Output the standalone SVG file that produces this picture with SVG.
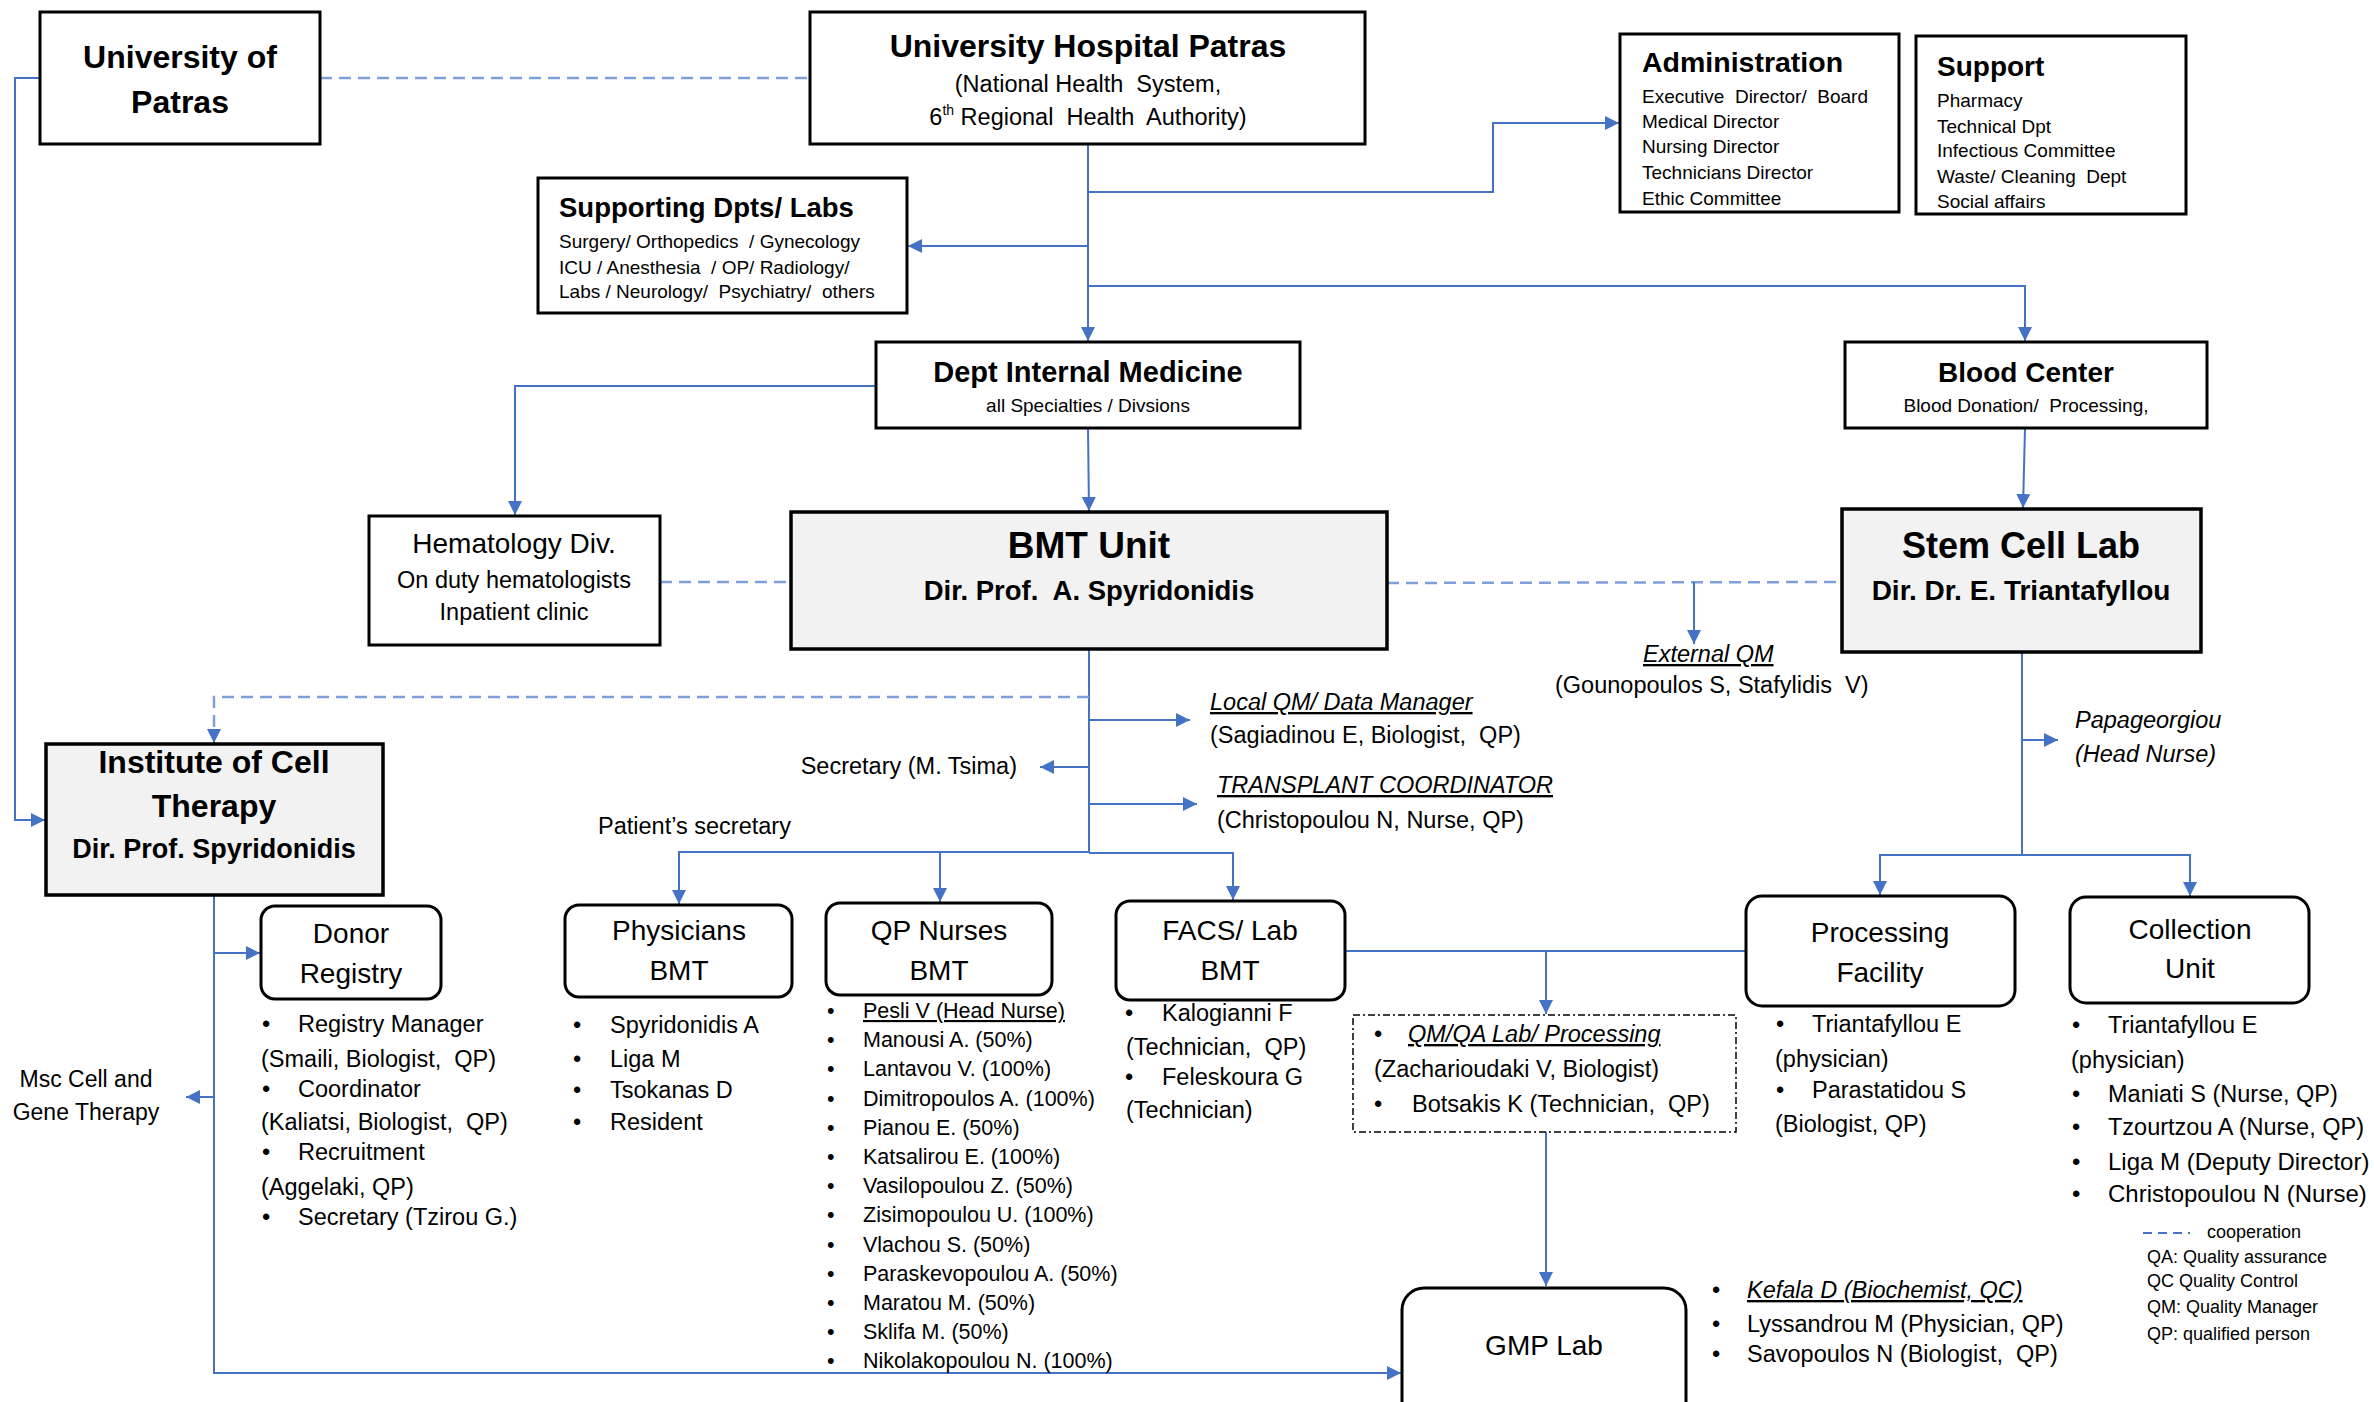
<svg xmlns="http://www.w3.org/2000/svg" width="2374" height="1402" viewBox="0 0 2374 1402">
<style>
text{font-family:'Liberation Sans',Arial,sans-serif;fill:#000;white-space:pre}
.c{text-anchor:middle}
.r{text-anchor:end}
.b{font-weight:bold}
.i{font-style:italic}
.u{text-decoration:underline}
.box{fill:#fff;stroke:#000;stroke-width:3}
.gbox{fill:#f2f2f2;stroke:#000;stroke-width:3.5}
.rbox{fill:#fff;stroke:#000;stroke-width:3}
.dd{fill:none;stroke:#000;stroke-width:1.5;stroke-dasharray:7 3 2 3}
.ln{fill:none;stroke:#4472c4;stroke-width:2}
.dl{fill:none;stroke:#7f9fdb;stroke-width:2.5;stroke-dasharray:12 7}
.f19{font-size:19px}
.f23{font-size:23.5px}
.f21{font-size:21.5px}
.f28{font-size:28px}
</style>
<defs>
<marker id="ah" viewBox="0 0 10 10" refX="10" refY="5" markerWidth="14" markerHeight="14" markerUnits="userSpaceOnUse" orient="auto"><path d="M0,0 L10,5 L0,10 z" fill="#4472c4"/></marker>
</defs>

<g id="connectors">
<polyline class="ln" points="40,78 15,78 15,820 45,820" marker-end="url(#ah)"/>
<line class="dl" x1="320" y1="78" x2="810" y2="78"/>
<line class="ln" x1="1088" y1="144" x2="1088" y2="341" marker-end="url(#ah)"/>
<polyline class="ln" points="1088,192 1493,192 1493,123 1619,123" marker-end="url(#ah)"/>
<line class="ln" x1="1088" y1="246" x2="908" y2="246" marker-end="url(#ah)"/>
<polyline class="ln" points="1088,286 2025,286 2025,341" marker-end="url(#ah)"/>
<polyline class="ln" points="876,386 515,386 515,515" marker-end="url(#ah)"/>
<line class="ln" x1="1088" y1="428" x2="1089" y2="511" marker-end="url(#ah)"/>
<line class="dl" x1="660" y1="582" x2="791" y2="582"/>
<line class="dl" x1="1387" y1="583" x2="1842" y2="582"/>
<line class="ln" x1="1694" y1="582" x2="1694" y2="644" marker-end="url(#ah)"/>
<line class="ln" x1="2025" y1="428" x2="2023" y2="508" marker-end="url(#ah)"/>
<line class="ln" x1="1089" y1="649" x2="1089" y2="853"/>
<polyline class="dl" points="1089,697 214,697 214,735"/>
<line class="ln" x1="214" y1="735" x2="214" y2="743" marker-end="url(#ah)"/>
<line class="ln" x1="1089" y1="720" x2="1190" y2="720" marker-end="url(#ah)"/>
<line class="ln" x1="1089" y1="767" x2="1040" y2="767" marker-end="url(#ah)"/>
<line class="ln" x1="1089" y1="804" x2="1197" y2="804" marker-end="url(#ah)"/>
<polyline class="ln" points="1089,852 679,852 679,904" marker-end="url(#ah)"/>
<line class="ln" x1="940" y1="852" x2="940" y2="902" marker-end="url(#ah)"/>
<polyline class="ln" points="1089,853 1233,853 1233,900" marker-end="url(#ah)"/>
<polyline class="ln" points="214,895 214,1373 1401,1373" marker-end="url(#ah)"/>
<line class="ln" x1="214" y1="953" x2="260" y2="953" marker-end="url(#ah)"/>
<line class="ln" x1="214" y1="1097" x2="186" y2="1097" marker-end="url(#ah)"/>
<line class="ln" x1="1345" y1="951" x2="1746" y2="951"/>
<line class="ln" x1="1546" y1="951" x2="1546" y2="1014" marker-end="url(#ah)"/>
<line class="ln" x1="1546" y1="1132" x2="1546" y2="1286" marker-end="url(#ah)"/>
<line class="ln" x1="2022" y1="652" x2="2022" y2="855"/>
<polyline class="ln" points="2022,855 1880,855 1880,895" marker-end="url(#ah)"/>
<polyline class="ln" points="2022,855 2190,855 2190,896" marker-end="url(#ah)"/>
<line class="ln" x1="2022" y1="740" x2="2058" y2="740" marker-end="url(#ah)"/>
</g>

<g id="univ-patras">
<rect class="box" x="40" y="12" width="280" height="132"/>
<text class="c b" x="180" y="68" font-size="32">University of</text>
<text class="c b" x="180" y="113" font-size="32">Patras</text>
</g>

<g id="hospital">
<rect class="box" x="810" y="12" width="555" height="132"/>
<text class="c b" x="1088" y="57" font-size="32">University Hospital Patras</text>
<text class="c" x="1088" y="92" font-size="23.5">(National Health  System,</text>
<text class="c" x="1088" y="125" font-size="23.5">6<tspan font-size="14" dy="-10">th</tspan><tspan dy="10"> Regional  Health  Authority)</tspan></text>
</g>

<g id="supporting">
<rect class="box" x="538" y="178" width="369" height="135"/>
<text class="b" x="559" y="217" font-size="27.5">Supporting Dpts/ Labs</text>
<text class="f19" x="559" y="248">Surgery/ Orthopedics  / Gynecology</text>
<text class="f19" x="559" y="274">ICU / Anesthesia  / OP/ Radiology/</text>
<text class="f19" x="559" y="298">Labs / Neurology/  Psychiatry/  others</text>
</g>

<g id="administration">
<rect class="box" x="1620" y="34" width="279" height="178"/>
<text class="b" x="1642" y="72" font-size="28.5">Administration</text>
<text class="f19" x="1642" y="103">Executive  Director/  Board</text>
<text class="f19" x="1642" y="128">Medical Director</text>
<text class="f19" x="1642" y="153">Nursing Director</text>
<text class="f19" x="1642" y="179">Technicians Director</text>
<text class="f19" x="1642" y="205">Ethic Committee</text>
</g>

<g id="support">
<rect class="box" x="1916" y="36" width="270" height="178"/>
<text class="b" x="1937" y="76" font-size="28">Support</text>
<text class="f19" x="1937" y="107">Pharmacy</text>
<text class="f19" x="1937" y="133">Technical Dpt</text>
<text class="f19" x="1937" y="157">Infectious Committee</text>
<text class="f19" x="1937" y="183">Waste/ Cleaning  Dept</text>
<text class="f19" x="1937" y="208">Social affairs</text>
</g>

<g id="dept-internal">
<rect class="box" x="876" y="342" width="424" height="86"/>
<text class="c b" x="1088" y="382" font-size="29">Dept Internal Medicine</text>
<text class="c f19" x="1088" y="412">all Specialties / Divsions</text>
</g>

<g id="blood-center">
<rect class="box" x="1845" y="342" width="362" height="86"/>
<text class="c b" x="2026" y="382" font-size="28">Blood Center</text>
<text class="c f19" x="2026" y="412">Blood Donation/  Processing,</text>
</g>

<g id="hematology">
<rect class="box" x="369" y="516" width="291" height="129"/>
<text class="c" x="514" y="553" font-size="28">Hematology Div.</text>
<text class="c" x="514" y="588" font-size="23.5">On duty hematologists</text>
<text class="c" x="514" y="620" font-size="23.5">Inpatient clinic</text>
</g>

<g id="bmt-unit">
<rect class="gbox" x="791" y="512" width="596" height="137"/>
<text class="c b" x="1089" y="558" font-size="37">BMT Unit</text>
<text class="c b" x="1089" y="600" font-size="27.5">Dir. Prof.  A. Spyridonidis</text>
</g>

<g id="stem-cell-lab">
<rect class="gbox" x="1842" y="509" width="359" height="143"/>
<text class="c b" x="2021" y="558" font-size="36">Stem Cell Lab</text>
<text class="c b" x="2021" y="600" font-size="28">Dir. Dr. E. Triantafyllou</text>
</g>

<g id="external-qm">
<text class="i u f23" x="1643" y="662">External QM</text>
<text class="f23" x="1555" y="693">(Gounopoulos S, Stafylidis  V)</text>
</g>

<g id="local-qm">
<text class="i u f23" x="1210" y="710">Local QM/ Data Manager</text>
<text class="f23" x="1210" y="743">(Sagiadinou E, Biologist,  QP)</text>
</g>

<g id="secretary">
<text class="r f23" x="1017" y="774">Secretary (M. Tsima)</text>
</g>

<g id="transplant-coordinator">
<text class="i u f23" x="1217" y="793">TRANSPLANT COORDINATOR</text>
<text class="f23" x="1217" y="828">(Christopoulou N, Nurse, QP)</text>
</g>

<g id="papageorgiou">
<text class="i f23" x="2075" y="728">Papageorgiou</text>
<text class="i f23" x="2075" y="762">(Head Nurse)</text>
</g>

<g id="patients-secretary">
<text class="f23" x="598" y="834">Patient’s secretary</text>
</g>

<g id="institute">
<rect class="gbox" x="46" y="744" width="337" height="151"/>
<text class="c b" x="214" y="773" font-size="32">Institute of Cell</text>
<text class="c b" x="214" y="817" font-size="32">Therapy</text>
<text class="c b" x="214" y="858" font-size="27">Dir. Prof. Spyridonidis</text>
</g>

<g id="msc">
<text class="c" x="86" y="1087" font-size="23">Msc Cell and</text>
<text class="c" x="86" y="1120" font-size="23">Gene Therapy</text>
</g>

<g id="donor-registry">
<rect class="rbox" x="261" y="906" width="180" height="93" rx="14"/>
<text class="c f28" x="351" y="943">Donor</text>
<text class="c f28" x="351" y="983">Registry</text>
<text class="f23" x="262" y="1032">•</text><text class="f23" x="298" y="1032">Registry Manager</text>
<text class="f23" x="261" y="1067">(Smaili, Biologist,  QP)</text>
<text class="f23" x="262" y="1097">•</text><text class="f23" x="298" y="1097">Coordinator</text>
<text class="f23" x="261" y="1130">(Kaliatsi, Biologist,  QP)</text>
<text class="f23" x="262" y="1160">•</text><text class="f23" x="298" y="1160">Recruitment</text>
<text class="f23" x="261" y="1195">(Aggelaki, QP)</text>
<text class="f23" x="262" y="1225">•</text><text class="f23" x="298" y="1225">Secretary (Tzirou G.)</text>
</g>

<g id="physicians-bmt">
<rect class="rbox" x="565" y="905" width="227" height="92" rx="14"/>
<text class="c f28" x="679" y="940">Physicians</text>
<text class="c f28" x="679" y="980">BMT</text>
<text class="f23" x="573" y="1033">•</text><text class="f23" x="610" y="1033">Spyridonidis A</text>
<text class="f23" x="573" y="1067">•</text><text class="f23" x="610" y="1067">Liga M</text>
<text class="f23" x="573" y="1098">•</text><text class="f23" x="610" y="1098">Tsokanas D</text>
<text class="f23" x="573" y="1130">•</text><text class="f23" x="610" y="1130">Resident</text>
</g>

<g id="qp-nurses">
<rect class="rbox" x="826" y="903" width="226" height="92" rx="14"/>
<text class="c f28" x="939" y="940">QP Nurses</text>
<text class="c f28" x="939" y="980">BMT</text>
<text class="f21" x="827" y="1018">•</text><text class="f21 u" x="863" y="1018">Pesli V (Head Nurse)</text>
<text class="f21" x="827" y="1047">•</text><text class="f21" x="863" y="1047">Manousi A. (50%)</text>
<text class="f21" x="827" y="1076">•</text><text class="f21" x="863" y="1076">Lantavou V. (100%)</text>
<text class="f21" x="827" y="1106">•</text><text class="f21" x="863" y="1106">Dimitropoulos A. (100%)</text>
<text class="f21" x="827" y="1135">•</text><text class="f21" x="863" y="1135">Pianou E. (50%)</text>
<text class="f21" x="827" y="1164">•</text><text class="f21" x="863" y="1164">Katsalirou E. (100%)</text>
<text class="f21" x="827" y="1193">•</text><text class="f21" x="863" y="1193">Vasilopoulou Z. (50%)</text>
<text class="f21" x="827" y="1222">•</text><text class="f21" x="863" y="1222">Zisimopoulou U. (100%)</text>
<text class="f21" x="827" y="1252">•</text><text class="f21" x="863" y="1252">Vlachou S. (50%)</text>
<text class="f21" x="827" y="1281">•</text><text class="f21" x="863" y="1281">Paraskevopoulou A. (50%)</text>
<text class="f21" x="827" y="1310">•</text><text class="f21" x="863" y="1310">Maratou M. (50%)</text>
<text class="f21" x="827" y="1339">•</text><text class="f21" x="863" y="1339">Sklifa M. (50%)</text>
<text class="f21" x="827" y="1368">•</text><text class="f21" x="863" y="1368">Nikolakopoulou N. (100%)</text>
</g>

<g id="facs-lab">
<rect class="rbox" x="1116" y="901" width="229" height="99" rx="14"/>
<text class="c f28" x="1230" y="940">FACS/ Lab</text>
<text class="c f28" x="1230" y="980">BMT</text>
<text class="f23" x="1125" y="1021">•</text><text class="f23" x="1162" y="1021">Kalogianni F</text>
<text class="f23" x="1126" y="1055">(Technician,  QP)</text>
<text class="f23" x="1125" y="1085">•</text><text class="f23" x="1162" y="1085">Feleskoura G</text>
<text class="f23" x="1126" y="1118">(Technician)</text>
</g>

<g id="qm-qa-lab">
<rect class="dd" x="1353" y="1015" width="383" height="117"/>
<text class="f23" x="1374" y="1042">•</text><text class="i u f23" x="1408" y="1042">QM/QA Lab/ Processing</text>
<text class="f23" x="1374" y="1077">(Zacharioudaki V, Biologist)</text>
<text class="f23" x="1374" y="1112">•</text><text class="f23" x="1412" y="1112">Botsakis K (Technician,  QP)</text>
</g>

<g id="processing-facility">
<rect class="rbox" x="1746" y="896" width="269" height="110" rx="16"/>
<text class="c f28" x="1880" y="942">Processing</text>
<text class="c f28" x="1880" y="982">Facility</text>
<text class="f23" x="1776" y="1032">•</text><text class="f23" x="1812" y="1032">Triantafyllou E</text>
<text class="f23" x="1775" y="1067">(physician)</text>
<text class="f23" x="1776" y="1098">•</text><text class="f23" x="1812" y="1098">Parastatidou S</text>
<text class="f23" x="1775" y="1132">(Biologist, QP)</text>
</g>

<g id="collection-unit">
<rect class="rbox" x="2070" y="897" width="239" height="106" rx="16"/>
<text class="c f28" x="2190" y="939">Collection</text>
<text class="c f28" x="2190" y="978">Unit</text>
<text class="f23" x="2072" y="1033">•</text><text class="f23" x="2108" y="1033">Triantafyllou E</text>
<text class="f23" x="2071" y="1068">(physician)</text>
<text class="f23" x="2072" y="1102">•</text><text class="f23" x="2108" y="1102">Maniati S (Nurse, QP)</text>
<text class="f23" x="2072" y="1135">•</text><text class="f23" x="2108" y="1135">Tzourtzou A (Nurse, QP)</text>
<text x="2072" y="1170" font-size="24">•</text><text x="2108" y="1170" font-size="24">Liga M (Deputy Director)</text>
<text x="2072" y="1202" font-size="24">•</text><text x="2108" y="1202" font-size="24">Christopoulou N (Nurse)</text>
</g>

<g id="gmp-lab">
<rect class="rbox" x="1402" y="1288" width="284" height="140" rx="22"/>
<text class="c f28" x="1544" y="1355">GMP Lab</text>
<text class="f23" x="1712" y="1298">•</text><text class="i u f23" x="1747" y="1298">Kefala D (Biochemist, QC)</text>
<text class="f23" x="1712" y="1332">•</text><text class="f23" x="1747" y="1332">Lyssandrou M (Physician, QP)</text>
<text class="f23" x="1712" y="1362">•</text><text class="f23" x="1747" y="1362">Savopoulos N (Biologist,  QP)</text>
</g>

<g id="legend">
<line x1="2143" y1="1233" x2="2190" y2="1233" stroke="#4472c4" stroke-width="2" stroke-dasharray="9 6"/>
<text x="2207" y="1238" font-size="18">cooperation</text>
<text x="2147" y="1263" font-size="18">QA: Quality assurance</text>
<text x="2147" y="1287" font-size="18">QC Quality Control</text>
<text x="2147" y="1313" font-size="18">QM: Quality Manager</text>
<text x="2147" y="1340" font-size="18">QP: qualified person</text>
</g>
</svg>
